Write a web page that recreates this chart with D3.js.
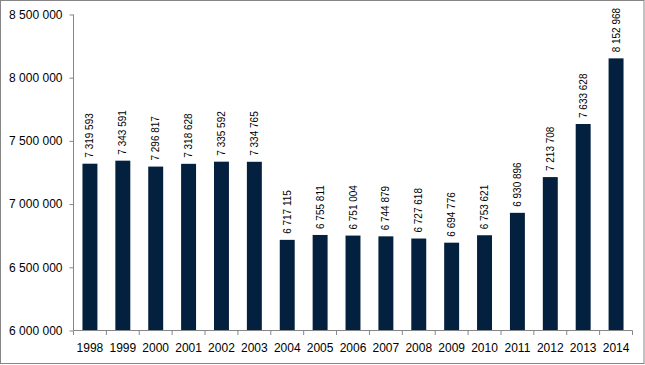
<!DOCTYPE html>
<html><head><meta charset="utf-8">
<script src="https://cdn.jsdelivr.net/npm/d3@7"></script>
<style>body{margin:0;background:#fff}svg{display:block}text{font-family:"Liberation Sans",Arial,sans-serif;fill:#000}</style>
</head><body>
<svg id="c" width="645" height="365"></svg>
<script>
const years = ["1998","1999","2000","2001","2002","2003","2004","2005","2006","2007","2008","2009","2010","2011","2012","2013","2014"];
const values = [7319593,7343591,7296817,7318628,7335592,7334765,6717115,6755811,6751004,6744879,6727618,6694776,6753621,6930896,7213708,7633628,8152968];
const yTicks = [6000000,6500000,7000000,7500000,8000000,8500000];

const svg = d3.select("#c");
const fmt = v => d3.format(",")(v).replace(/,/g, " ");
const axisColor = "#868686";

svg.append("rect").attr("x",0.5).attr("y",0.5).attr("width",643.5).attr("height",363)
  .attr("fill","#fff").attr("stroke",axisColor).attr("stroke-width",1);

const x = d3.scaleBand().domain(years).range([73.5,632.5]).paddingInner(1.2/2.2).paddingOuter(0.6/2.2);
const y = d3.scaleLinear().domain([6000000,8500000]).range([330.5,14.5]);

// bars
svg.append("g").selectAll("rect").data(years).join("rect")
  .attr("x", d => x(d)).attr("width", x.bandwidth())
  .attr("y", (d,i) => y(values[i])).attr("height", (d,i) => y(6000000) - y(values[i]))
  .attr("fill", "#03203f");

// bar labels
svg.append("g").selectAll("text").data(years).join("text")
  .attr("transform", (d,i) => `translate(${x(d)+x.bandwidth()/2+3.5},${y(values[i])-6}) rotate(-90)`)
  .attr("font-size", 10).attr("text-anchor","start")
  .text((d,i) => fmt(values[i]));

// y axis
const ya = svg.append("g").attr("transform","translate(73.5,0)")
  .call(d3.axisLeft(y).tickValues(yTicks).tickSize(4).tickPadding(7).tickFormat(fmt));
ya.selectAll("path,line").attr("stroke", axisColor);
ya.select("path").attr("d","M0,14.5V330.5");
ya.selectAll("text").attr("font-size",12).attr("font-family","Liberation Sans, Arial, sans-serif").attr("fill","#000");

// x axis
const step = x.step();
const bounds = d3.range(years.length+1).map(i => 73.5 + i*step);
const xa = svg.append("g");
xa.append("line").attr("x1",73.5).attr("x2",632.5).attr("y1",330.5).attr("y2",330.5).attr("stroke",axisColor);
xa.selectAll("line.t").data(bounds).join("line").attr("class","t")
  .attr("x1",d=>d).attr("x2",d=>d).attr("y1",330.5).attr("y2",335).attr("stroke",axisColor);
xa.selectAll("text").data(years).join("text")
  .attr("x", d => x(d)+x.bandwidth()/2).attr("y", 352)
  .attr("text-anchor","middle").attr("font-size",12).text(d=>d);
</script>
</body></html>
